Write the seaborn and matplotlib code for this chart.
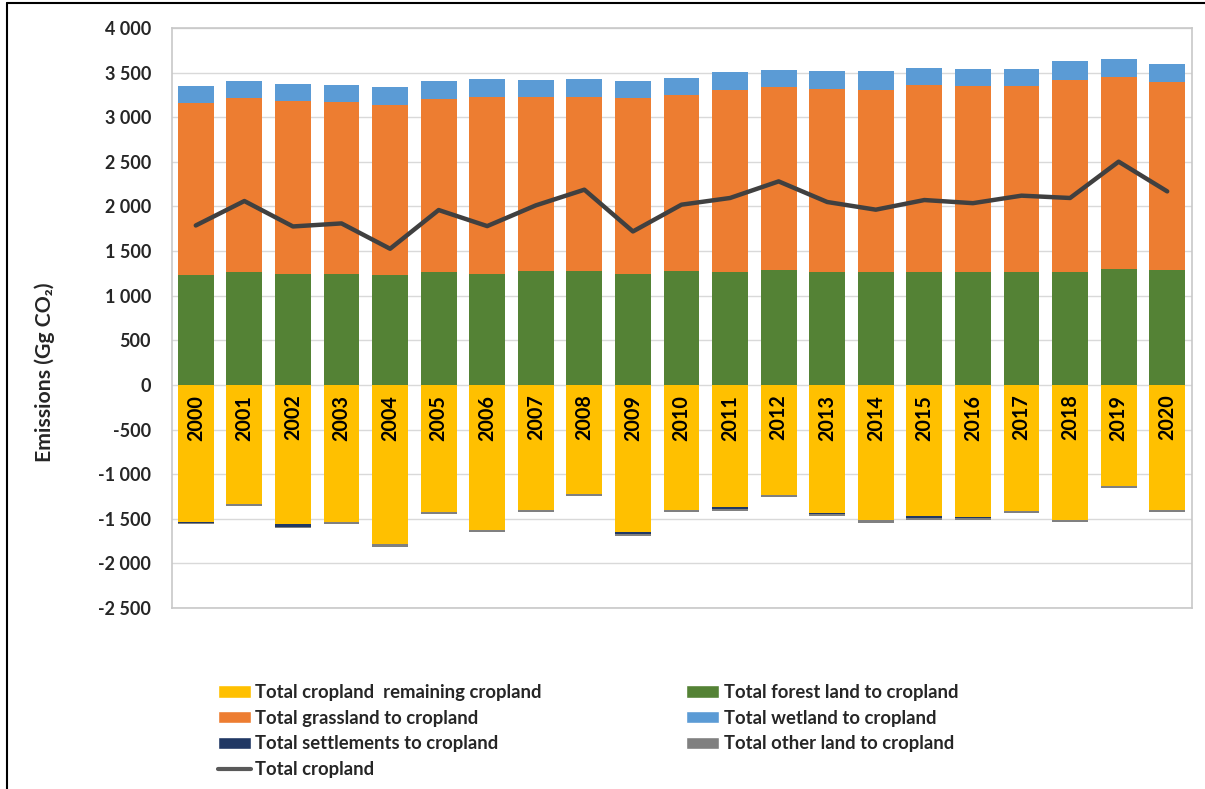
import numpy as np
import pandas as pd
import matplotlib
matplotlib.use("Agg")
import matplotlib.pyplot as plt
import seaborn as sns
from matplotlib.patches import Patch
from matplotlib.lines import Line2D
from matplotlib.ticker import FuncFormatter, MultipleLocator

# Cropland CO2 emissions/removals by land-use category (Gg CO2)
years = [str(y) for y in range(2000, 2021)]

cropland_remaining = [-1541, -1332, -1564, -1537, -1784, -1425, -1624, -1403, -1220, -1649, -1403,
                      -1369, -1234, -1440, -1511, -1466, -1485, -1414, -1511, -1133, -1399]
forest_land = [1230, 1260, 1245, 1245, 1230, 1260, 1245, 1275, 1275, 1245, 1275,
               1270, 1285, 1270, 1270, 1270, 1270, 1270, 1270, 1300, 1285]
grassland = [1929, 1952, 1941, 1926, 1911, 1941, 1983, 1952, 1952, 1967, 1978,
             2039, 2049, 2050, 2039, 2092, 2077, 2077, 2147, 2150, 2105]
wetland = [195, 195, 191, 195, 194, 206, 205, 190, 205, 195, 191,
           194, 198, 194, 205, 194, 194, 194, 209, 206, 206]
settlements = [-3, -3, -24, -3, -3, -3, -3, -3, -3, -25, -3,
               -22, -3, -3, -3, -24, -3, -3, -3, -3, -3]
other_land = [-20, -23, -17, -24, -27, -23, -22, -22, -22, -18, -22,
              -20, -23, -23, -38, -21, -23, -23, -23, -23, -23]
total_cropland = [1787, 2061, 1776, 1810, 1526, 1960, 1780, 2012, 2188, 1720, 2020,
                  2095, 2281, 2050, 1964, 2072, 2037, 2121, 2095, 2502, 2169]

labels = {
    "remaining": "Total cropland  remaining cropland",
    "forest": "Total forest land to cropland",
    "grass": "Total grassland to cropland",
    "wet": "Total wetland to cropland",
    "settle": "Total settlements to cropland",
    "other": "Total other land to cropland",
    "total": "Total cropland",
}
colors = {
    "remaining": "#FFC000",
    "forest": "#548235",
    "grass": "#ED7D31",
    "wet": "#5B9BD5",
    "settle": "#203864",
    "other": "#808080",
    "total": "#404040",
}

sns.set_theme(style="white")
plt.rcParams["font.family"] = ["Lato", "DejaVu Sans"]
plt.rcParams["font.weight"] = "bold"

fig = plt.figure(figsize=(12.05, 7.89), dpi=100)
ax = fig.add_axes([171.5 / 1205, 1 - 608 / 789, 1020 / 1205, 580 / 789])

# Positive stack (forest, grassland, wetland) as cumulative layers, back to front
pos1 = np.array(forest_land, dtype=float)
pos2 = pos1 + np.array(grassland)
pos3 = pos2 + np.array(wetland)
# Negative stack (remaining, settlements, other land)
neg1 = np.array(cropland_remaining, dtype=float)
neg2 = neg1 + np.array(settlements)
neg3 = neg2 + np.array(other_land)

layers = [
    (pos3, colors["wet"]),
    (pos2, colors["grass"]),
    (pos1, colors["forest"]),
    (neg3, colors["other"]),
    (neg2, colors["settle"]),
    (neg1, colors["remaining"]),
]
for vals, col in layers:
    df = pd.DataFrame({"year": years, "value": vals})
    sns.barplot(data=df, x="year", y="value", order=years, color=col, saturation=1,
                width=0.74, errorbar=None, linewidth=0, ax=ax, zorder=2)

sns.lineplot(x=np.arange(len(years)), y=total_cropland, color=colors["total"],
             linewidth=3.2, ax=ax, zorder=4)

# Year labels inside the negative bars
for i, yr in enumerate(years):
    ax.text(i, -110, yr, rotation=90, ha="center", va="top", fontsize=14.2,
            fontweight="bold", color="black", zorder=5)

ax.set_xlim(-0.5, len(years) - 0.5)
ax.set_ylim(-2500, 4000)
ax.yaxis.set_major_locator(MultipleLocator(500))


def fmt(v, _):
    s = f"{abs(int(round(v))):,}".replace(",", " ")
    return ("-" + s) if v < 0 else s


ax.yaxis.set_major_formatter(FuncFormatter(fmt))
ax.set_xticks([])
ax.set_xlabel("")
ax.set_ylabel("Emissions (Gg CO\u2082)", fontsize=15.3, fontweight="bold",
              family=["Lato", "DejaVu Sans"])
ax.yaxis.set_label_coords((55 - 171.5) / 1020, (608 - 372) / 580)
ax.tick_params(axis="y", length=0, pad=14.8, labelsize=13)
for lab in ax.get_yticklabels():
    lab.set_fontweight("bold")
ax.grid(axis="y", color="#D9D9D9", linewidth=1, zorder=0)
ax.set_axisbelow(True)
for sp in ax.spines.values():
    sp.set_color("#C8C8C8")
    sp.set_linewidth(1.2)

handles = [
    Patch(facecolor=colors["remaining"], label=labels["remaining"]),
    Patch(facecolor=colors["grass"], label=labels["grass"]),
    Patch(facecolor=colors["settle"], label=labels["settle"]),
    Line2D([0], [0], color="#595959", lw=3, label=labels["total"]),
    Patch(facecolor=colors["forest"], label=labels["forest"]),
    Patch(facecolor=colors["wet"], label=labels["wet"]),
    Patch(facecolor=colors["other"], label=labels["other"]),
]
leg = fig.legend(handles=handles, ncol=2, loc="upper left",
                 bbox_to_anchor=(218 / 1205, 1 - 684 / 789), frameon=False,
                 prop={"family": "Lato", "weight": "bold", "size": 13.3},
                 handlelength=1.78, handleheight=0.66, handletextpad=0.25,
                 labelspacing=0.47, columnspacing=7.8, borderpad=0, borderaxespad=0)

# Outer frame lines (left and top)
fig.add_artist(Line2D([7 / 1205, 7 / 1205], [0, 1 - 3 / 789], transform=fig.transFigure,
                      color="black", lw=1.5))
fig.add_artist(Line2D([7 / 1205, 1], [1 - 3 / 789, 1 - 3 / 789], transform=fig.transFigure,
                      color="black", lw=1.5))

fig.savefig("out.png", dpi=100)
